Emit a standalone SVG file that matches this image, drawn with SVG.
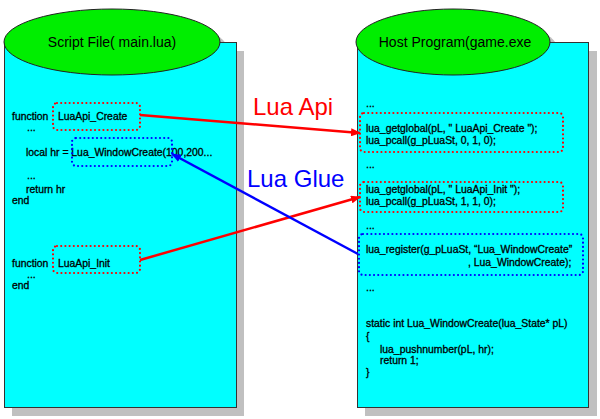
<svg xmlns="http://www.w3.org/2000/svg" width="600" height="419" viewBox="0 0 600 419">
<style>
.code{font-family:"Liberation Sans",Arial,sans-serif;font-size:10.4px;fill:#000;stroke:#000;stroke-width:0.3}
.title{font-family:"Liberation Sans",Arial,sans-serif;font-size:14px;fill:#000;text-anchor:middle}
.body{fill:#00ffff;stroke:#333;stroke-width:1}
.top{fill:#00ee00;stroke:#222;stroke-width:1}
.shadow{fill:#c0c0c0}
.rdot{fill:none;stroke:#ff0000;stroke-width:2.2;stroke-dasharray:0 4.2;stroke-linecap:round}
.bdot{fill:none;stroke:#0000ff;stroke-width:2.2;stroke-dasharray:0 4.2;stroke-linecap:round}
.lbl{font-family:"Liberation Sans",Arial,sans-serif;font-size:24px}
</style>
<defs>
<marker id="ar" viewBox="0 0 10 8" refX="9" refY="4" markerWidth="10" markerHeight="8" markerUnits="userSpaceOnUse" orient="auto"><path d="M0,0 L10,4 L0,8 z" fill="#ff0000"/></marker>
<marker id="ab" viewBox="0 0 10 8" refX="9" refY="4" markerWidth="10" markerHeight="8" markerUnits="userSpaceOnUse" orient="auto"><path d="M0,0 L10,4 L0,8 z" fill="#0000ff"/></marker>
</defs>
<rect width="600" height="419" fill="#fff"/>
<g id="script-file">
<rect class="shadow" x="12" y="51" width="232" height="365"/>
<ellipse class="shadow" cx="120" cy="50" rx="108" ry="33"/>
<rect class="body" x="4.5" y="42.5" width="232" height="365"/>
<ellipse class="top" cx="112" cy="42" rx="108" ry="33"/>
<text class="title" x="112" y="47">Script File( main.lua)</text>
<text class="code" x="12" y="120">function</text>
<text class="code" x="58" y="120">LuaApi_Create</text>
<text class="code" x="27" y="131">...</text>
<text class="code" x="26" y="156">local hr = Lua_WindowCreate(100,200...</text>
<text class="code" x="27" y="179">...</text>
<text class="code" x="26" y="193">return hr</text>
<text class="code" x="12" y="204">end</text>
<text class="code" x="12" y="267">function</text>
<text class="code" x="58" y="267">LuaApi_Init</text>
<text class="code" x="27" y="278">...</text>
<text class="code" x="12" y="289">end</text>
<rect class="rdot" x="53" y="103" width="87" height="27" rx="4"/>
<rect class="bdot" x="72" y="138" width="100" height="28" rx="4"/>
<rect class="rdot" x="53" y="246" width="87" height="27" rx="4"/>
</g>
<g id="host-program">
<rect class="shadow" x="365" y="51" width="232" height="365"/>
<ellipse class="shadow" cx="461" cy="50" rx="97" ry="33"/>
<rect class="body" x="357.5" y="42.5" width="231" height="365"/>
<ellipse class="top" cx="453" cy="42" rx="97" ry="33"/>
<text class="title" x="455" y="47">Host Program(game.exe</text>
<text class="code" x="366" y="107">...</text>
<text class="code" x="366" y="132">lua_getglobal(pL, " LuaApi_Create ");</text>
<text class="code" x="366" y="144">lua_pcall(g_pLuaSt, 0, 1, 0);</text>
<text class="code" x="366" y="168">...</text>
<text class="code" x="366" y="193">lua_getglobal(pL, " LuaApi_Init ");</text>
<text class="code" x="366" y="205">lua_pcall(g_pLuaSt, 1, 1, 0);</text>
<text class="code" x="366" y="229">...</text>
<text class="code" x="366" y="253">lua_register(g_pLuaSt, “Lua_WindowCreate”</text>
<text class="code" x="468" y="266">, Lua_WindowCreate);</text>
<text class="code" x="366" y="291">...</text>
<text class="code" x="366" y="327">static int Lua_WindowCreate(lua_State* pL)</text>
<text class="code" x="366" y="340">{</text>
<text class="code" x="380" y="353">lua_pushnumber(pL, hr);</text>
<text class="code" x="380" y="364">return 1;</text>
<text class="code" x="366" y="376">}</text>
<rect class="rdot" x="360" y="113" width="203" height="39" rx="4"/>
<rect class="rdot" x="360" y="182" width="203" height="30" rx="4"/>
<rect class="bdot" x="359" y="234" width="224" height="41" rx="4"/>
</g>
<g id="connectors">
<line x1="140" y1="115" x2="360" y2="133" stroke="#ff0000" stroke-width="2.5" marker-end="url(#ar)"/>
<line x1="140" y1="260" x2="360" y2="197" stroke="#ff0000" stroke-width="2.5" marker-end="url(#ar)"/>
<line x1="358" y1="254" x2="172" y2="154" stroke="#0000ff" stroke-width="2.5" marker-end="url(#ab)"/>
<text class="lbl" x="253" y="115" fill="#ff0000">Lua Api</text>
<text class="lbl" x="247" y="187" fill="#0000ff">Lua Glue</text>
</g>
</svg>
